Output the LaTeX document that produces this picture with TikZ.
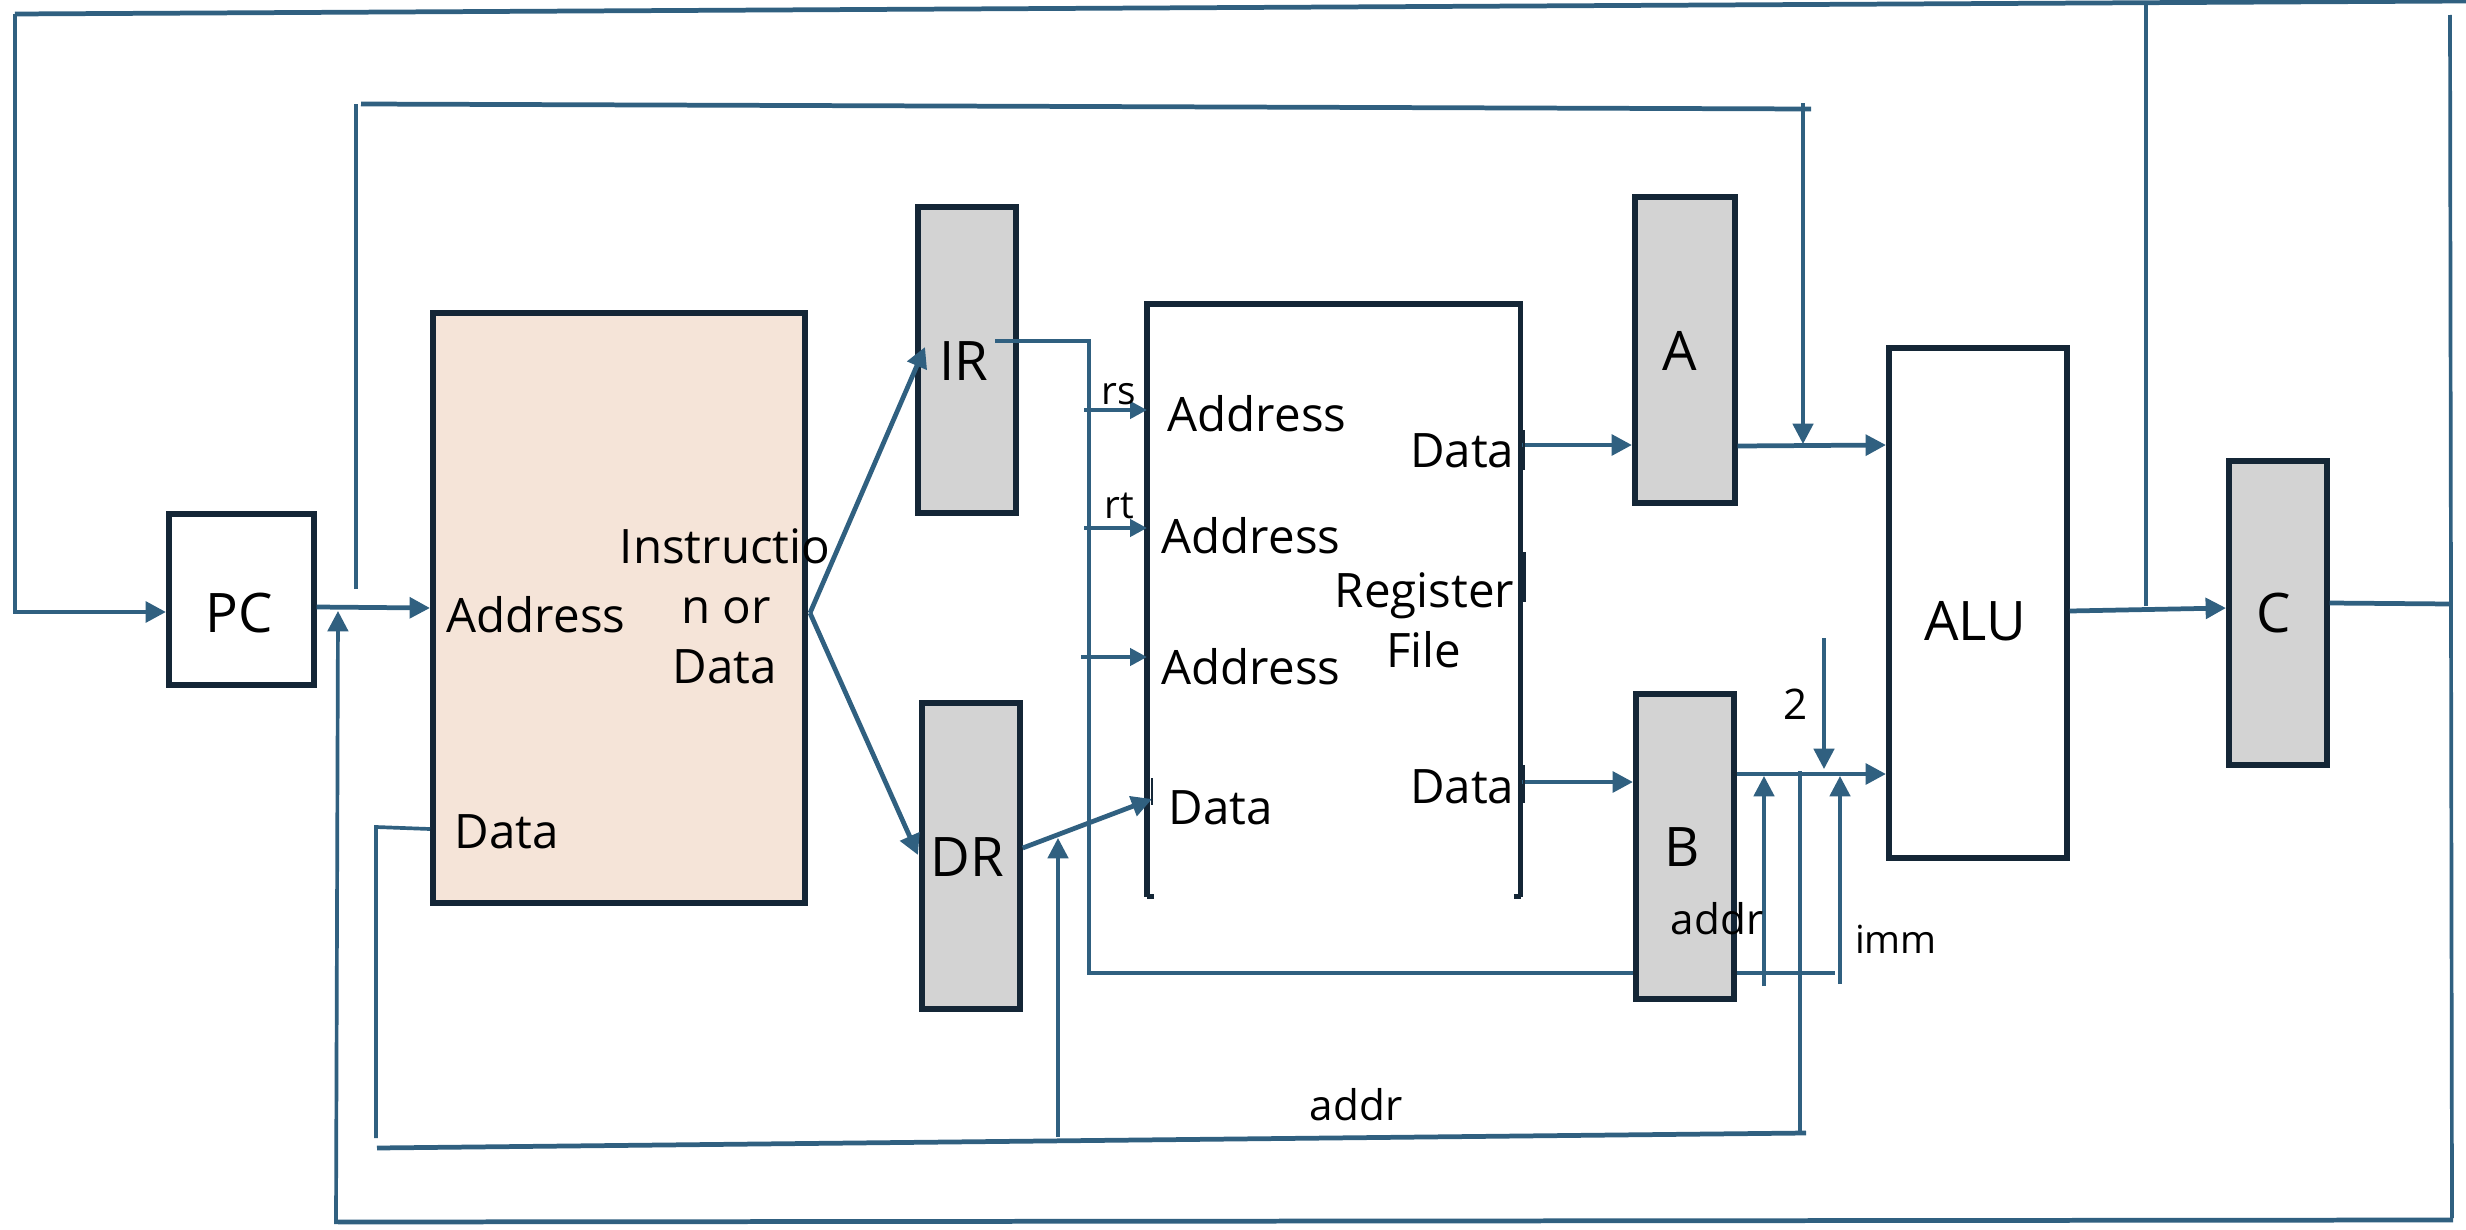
\documentclass[tikz,border=0pt]{standalone}
\usepackage{fontspec}
\setmainfont{Open Sans}
\usetikzlibrary{arrows.meta}
\definecolor{wirec}{RGB}{48,96,128}
\definecolor{edgec}{RGB}{20,38,54}
\definecolor{regfill}{RGB}{211,211,211}
\definecolor{memfill}{RGB}{245,228,216}
\begin{document}
\begin{tikzpicture}[x=0.01cm,y=-0.01cm,
  wire/.style={draw=wirec,line width=1.35pt},
  thinwire/.style={draw=wirec,line width=1.05pt},
  arr/.style={-{Triangle[length=5.8pt,width=5.8pt]}},
  sarr/.style={-{Triangle[length=4.8pt,width=4.8pt]}},
  box/.style={draw=edgec,line width=1.6pt,inner sep=0pt,anchor=north west},
  big/.style={font=\fontsize{15.5pt}{18pt}\selectfont,inner sep=0pt,anchor=base},
  lbl/.style={font=\fontsize{13.5pt}{16pt}\selectfont,inner sep=0pt},
  small/.style={font=\fontsize{12pt}{14pt}\selectfont,inner sep=0pt,anchor=base},
  tiny/.style={font=\fontsize{11pt}{13pt}\selectfont,inner sep=0pt,anchor=base},
]
\useasboundingbox (0,0) rectangle (2466,1230);
\fill[white] (0,0) rectangle (2466,1230);

% boxes (except B)
\node[box,minimum width=1.45cm,minimum height=1.71cm] (pc) at (166,511) {};
\node[box,fill=memfill,minimum width=3.72cm,minimum height=5.90cm] (mem) at (430,310) {};
\node[box,fill=regfill,minimum width=0.98cm,minimum height=3.06cm] (ir) at (915,204) {};
\node[box,fill=regfill,minimum width=0.98cm,minimum height=3.06cm] (dr) at (919,700) {};
\node[inner sep=0pt,minimum width=3.72cm,minimum height=5.91cm,anchor=north west] (rf) at (1147,304) {};
\draw[draw=edgec,line width=1.6pt] (rf.south west) -- (rf.north west) -- (rf.north east) -- (rf.south east);
\node[box,fill=regfill,minimum width=1.00cm,minimum height=3.06cm] (a) at (1632,194) {};
\node[box,minimum width=1.78cm,minimum height=5.10cm] (alu) at (1886,345) {};
\node[box,fill=regfill,minimum width=0.98cm,minimum height=3.04cm] (c) at (2226,458) {};

% IR bus (behind B)
\coordinate (irb1) at (1089,341);
\coordinate (irb2) at (1089,973);
\coordinate (irb3) at (1835,973);
\draw[wire] (995,341) -- (irb1) -- (irb2) -- (irb3);

\node[box,fill=regfill,minimum width=0.98cm,minimum height=3.05cm] (b) at (1633,691) {};

% outer top loop (ALU -> PC)
\coordinate (tl) at (15,14);
\coordinate (tr) at (2466,1);
\coordinate (tv) at (2146,5);
\coordinate (tvb) at (2146,606);
\draw[wire] (tl) -- (tr);
\draw[thinwire] (tvb) -- (tv);
\draw[wire,arr] (tl) -- (15,612) -- (pc.west |- 0,612);

% second loop (PC -> ALU A side)
\coordinate (s1) at (356,589);
\coordinate (s2) at (356,104);
\coordinate (s3) at (361,104);
\coordinate (s4) at (1811,109);
\coordinate (s5) at (1803,103);
\draw[thinwire] (s1) -- (s2);
\draw[wire] (s3) -- (s4);
\draw[thinwire,arr] (s5) -- (1803,444);

% PC -> memory
\draw[wire,arr] (pc.east |- 0,607) -- (mem.west |- 0,608);

% C -> right rail -> bottom -> memory address
\coordinate (r1) at (2451,604);
\coordinate (r2) at (2450,15);
\coordinate (r3) at (2452,1218);
\coordinate (r4) at (2453,1220);
\coordinate (r5) at (338,1222);
\coordinate (r6) at (336,1224);
\draw[wire] (c.east |- 0,603) -- (r1);
\draw[thinwire] (r2) -- (r3);
\draw[wire] (r4) -- (r5);
\draw[thinwire,arr] (r6) -- (338,611);

% memory split to IR / DR
\coordinate (split) at (810,613);
\draw[wire,arr] (split) -- (925,347);
\draw[wire,arr] (split) -- (918,855);

% taps into register file
\draw[wire,sarr] (1084,410) -- (rf.west |- 0,410);
\draw[wire,sarr] (1084,528) -- (rf.west |- 0,528);
\draw[wire,sarr] (1081,657) -- (rf.west |- 0,657);

% DR -> RF data
\coordinate (rfd) at (1152,799);
\draw[wire,arr] (dr.east |- 0,848) -- (rfd);

% RF outputs
\draw[wire,arr] (1522,445) -- (a.west |- 0,445);
\draw[wire,arr] (1522,782) -- (b.west |- 0,782);

% A, B -> ALU
\draw[wire,arr] (a.east |- 0,446) -- (alu.west |- 0,445);
\draw[wire,arr] (b.east |- 0,774) -- (alu.west |- 0,774);

% 2, addr, imm
\coordinate (two) at (1824,638);
\draw[thinwire,arr] (two) -- (1824,769);
\coordinate (ad1) at (1764,986);
\draw[thinwire,arr] (ad1) -- (1764,776);
\coordinate (im1) at (1840,984);
\draw[thinwire,arr] (im1) -- (1840,776);

% B side down to addr bus
\coordinate (d1) at (1800,771);
\coordinate (d2) at (1800,1131);
\coordinate (d3) at (1806,1133);
\coordinate (d4) at (377,1148);
\coordinate (d5) at (376,1138);
\coordinate (d6) at (376,827);
\draw[thinwire] (d1) -- (d2);
\draw[wire] (d3) -- (d4);
\draw[thinwire] (d5) -- (d6) -- (mem.west |- 0,829);
\coordinate (u1) at (1058,1137);
\draw[thinwire,arr] (u1) -- (1058,838);

% ALU -> C
\draw[wire,arr] (alu.east |- 0,611) -- (c.west |- 0,608);

% small marks on the register file
\draw[draw=edgec,line width=0.8pt] (1524,430) -- (1524,470);
\draw[draw=edgec,line width=0.8pt] (1524,765) -- (1524,803);
\draw[draw=edgec,line width=1.8pt] (1523,552) -- (1523,602);
\draw[draw=edgec,line width=0.6pt] (1152,778) -- (1152,805);
\draw[draw=edgec,line width=1.3pt] (rf.south west) -- ++(7,0);
\draw[draw=edgec,line width=1.3pt] (rf.south east) -- ++(-7,0);

% texts
\node[big] (pct) at (239,632) {PC};
\node[big] (irt) at (964,380) {IR};
\node[big] (drt) at (967,876) {DR};
\node[big] (att) at (1680,370) {A};
\node[big] (btt) at (1682,866) {B};
\node[big] (alut) at (1975,640) {ALU};
\node[big] (ctt) at (2274,632) {C};
\node[lbl,anchor=base west] (maddr) at (446,632) {Address};
\node[lbl,anchor=base west] (mdata) at (454,848) {Data};
\node[lbl,anchor=base] (mi1) at (725,563) {Instructio};
\node[lbl,anchor=base] (mi2) at (726,623) {n or};
\node[lbl,anchor=base] (mi3) at (725,683) {Data};
\node[tiny] (rst) at (1119,404) {rs};
\node[tiny] (rtt) at (1119,518) {rt};
\node[lbl,anchor=base west] (ra1) at (1167,431) {Address};
\node[lbl,anchor=base west] (ra2) at (1161,553) {Address};
\node[lbl,anchor=base west] (ra3) at (1161,684) {Address};
\node[lbl,anchor=base west] (rdt) at (1168,824) {Data};
\node[lbl,anchor=base east] (reg) at (1515,607) {Register};
\node[lbl,anchor=base] (file) at (1424,667) {File};
\node[lbl,anchor=base east] (d1t) at (1515,467) {Data};
\node[lbl,anchor=base east] (d2t) at (1515,803) {Data};
\node[small] (twot) at (1796,719) {2};
\node[small] (addrb) at (1717,934) {addr};
\node[tiny] (immt) at (1896,953) {imm};
\node[small] (addrt) at (1356,1120) {addr};
\end{tikzpicture}
\end{document}
